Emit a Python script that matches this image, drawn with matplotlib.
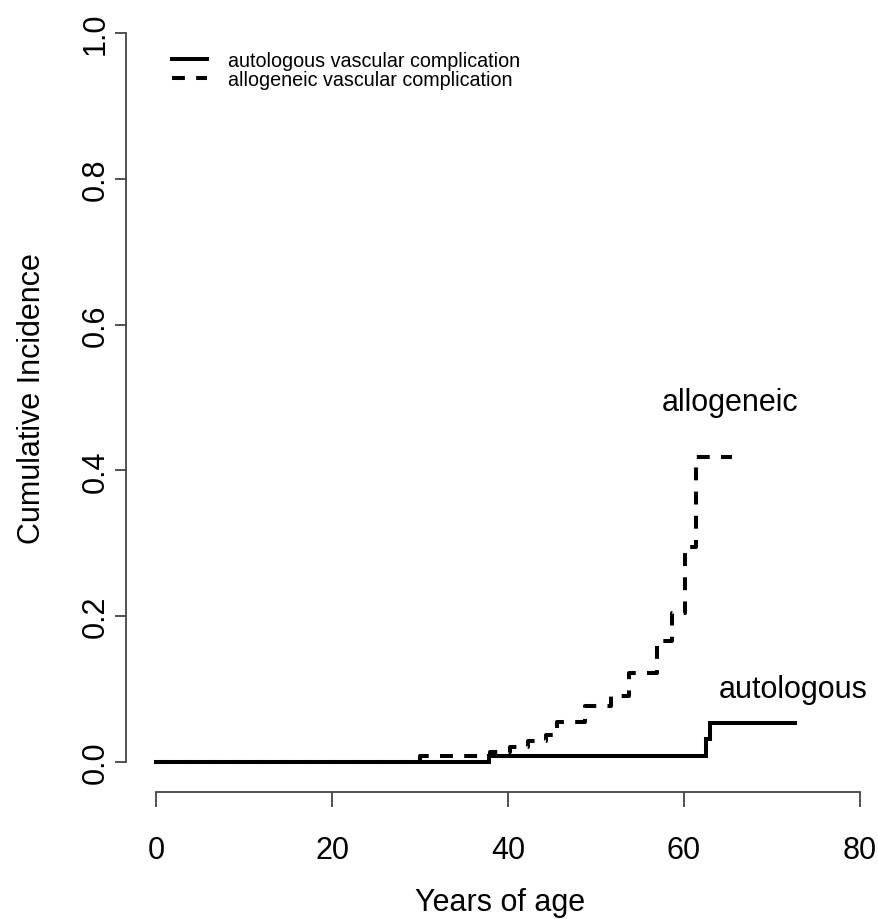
import matplotlib
matplotlib.use("Agg")
import matplotlib.pyplot as plt

plt.rcParams['font.family'] = ['Liberation Sans', 'DejaVu Sans']

# step-function cumulative incidence, times in years of age
auto_times = [0, 37.8, 62.5, 63.0, 72.6]
auto_cif = [0, 0.0087, 0.032, 0.0535, 0.0535]

allo_times = [0, 30.0, 38.0, 40.2, 42.3, 44.3, 45.6, 48.7, 51.7, 53.8,
              56.9, 58.6, 60.1, 61.4, 65.5]
allo_cif = [0, 0.0085, 0.014, 0.020, 0.029, 0.037, 0.055, 0.077, 0.091,
            0.122, 0.166, 0.205, 0.295, 0.418, 0.418]

x_ticks = [0, 20, 40, 60, 80]
y_ticks = [0.0, 0.2, 0.4, 0.6, 0.8, 1.0]

fig = plt.figure(figsize=(8.79, 9.20), dpi=100)
ax = fig.add_axes([126/879, 127/920, 749/879, 788/920])

ax.step(auto_times, auto_cif, where='post', color='black', lw=2.9,
        solid_joinstyle='miter', label='autologous vascular complication')
ax.step(allo_times, allo_cif, where='post', color='black', lw=2.9,
        linestyle=(0, (3.2, 2.8)), label='allogeneic vascular complication')

ax.set_xlim(-3.41, 81.7)
ax.set_ylim(-0.0412, 1.0398)

# R-style detached axes
for s in ['top', 'right']:
    ax.spines[s].set_visible(False)
ax.spines['left'].set_bounds(0, 1)
ax.spines['bottom'].set_bounds(0, 80)
for s in ['left', 'bottom']:
    ax.spines[s].set_color('#444444')
    ax.spines[s].set_linewidth(1.3)

ax.set_xticks(x_ticks)
ax.set_xticklabels([str(v) for v in x_ticks])
ax.set_yticks(y_ticks)
ax.set_yticklabels(['%.1f' % v for v in y_ticks], rotation=90, va='center')
ax.tick_params(axis='x', length=11, width=1.3, color='#444444',
               labelsize=22, pad=20)
ax.tick_params(axis='y', length=8, width=1.3, color='#444444',
               labelsize=22, pad=3)

ax.set_xlabel('Years of age', fontsize=22, labelpad=16)
ax.set_ylabel('Cumulative Incidence', fontsize=22, labelpad=24)

ax.text(65.2, 0.494, 'allogeneic', fontsize=22, ha='center', va='center')
ax.text(72.4, 0.100, 'autologous', fontsize=22, ha='center', va='center')

ax.legend(loc='upper left', bbox_to_anchor=(172/879, 1 - 52/920),
          bbox_transform=fig.transFigure, frameon=False, fontsize=14.2,
          handlelength=1.8, handletextpad=1.05, labelspacing=-0.02,
          borderpad=0, borderaxespad=0)

plt.savefig('out.png', dpi=100)
